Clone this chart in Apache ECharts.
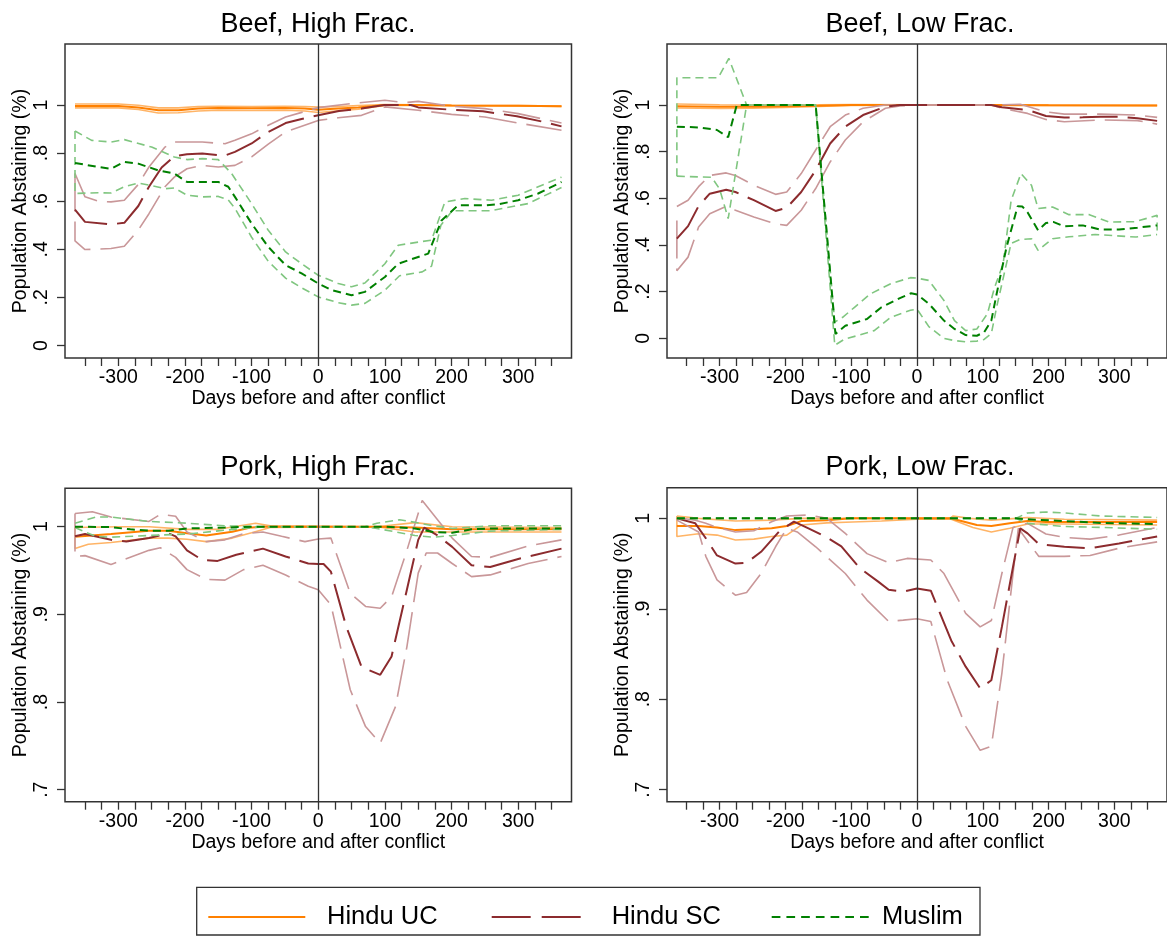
<!DOCTYPE html>
<html>
<head>
<meta charset="utf-8">
<script src="https://cdn.jsdelivr.net/npm/echarts@6/dist/echarts.min.js"></script>
<style>
html,body{margin:0;padding:0;background:#fff;}
#chart{width:1167px;height:936px;}
</style>
</head>
<body>
<div id="chart"></div>
<script>
// ---------------- DATA ----------------
const panelTitles = ['Beef, High Frac.', 'Beef, Low Frac.', 'Pork, High Frac.', 'Pork, Low Frac.'];
const groupNames = ['Hindu UC', 'Hindu SC', 'Muslim'];
const xTickValues = [-350,-325,-300,-275,-250,-225,-200,-175,-150,-125,-100,-75,-50,-25,0,25,50,75,100,125,150,175,200,225,250,275,300,325,350];
const xLabelValues = [-300,-200,-100,0,100,200,300];
const yTicksBeef = [0,0.2,0.4,0.6,0.8,1];
const yTicksPork = [0.7,0.8,0.9,1];
const xAxisTitle = 'Days before and after conflict';
const yAxisTitle = 'Population Abstaining (%)';

// Beef, High Frac.  [day, share]
const bhUC   = [[-365,0.996],[-300,0.996],[-270,0.99],[-240,0.978],[-210,0.978],[-180,0.985],[-150,0.987],[-100,0.986],[-50,0.987],[-20,0.985],[0,0.98],[30,0.985],[60,0.99],[100,1.0],[150,1.0],[200,0.998],[300,0.997],[365,0.995]];
const bhUCHi = [[-365,1.004],[-300,1.004],[-270,0.999],[-240,0.988],[-210,0.988],[-180,0.994],[-150,0.995],[-100,0.994],[-50,0.995],[-20,0.994],[0,0.991],[30,0.994],[60,0.998],[100,1.002],[150,1.001],[200,0.999],[300,0.998],[365,0.996]];
const bhUCLo = [[-365,0.988],[-300,0.988],[-270,0.981],[-240,0.967],[-210,0.968],[-180,0.975],[-150,0.978],[-100,0.977],[-50,0.978],[-20,0.975],[0,0.969],[30,0.976],[60,0.982],[100,0.998],[150,0.999],[200,0.997],[300,0.996],[365,0.994]];
const bhSC   = [[-365,0.565],[-350,0.514],[-311,0.504],[-291,0.51],[-270,0.58],[-254,0.66],[-235,0.74],[-216,0.787],[-197,0.795],[-174,0.798],[-150,0.792],[-140,0.79],[-125,0.805],[-100,0.84],[-75,0.888],[-49,0.925],[-25,0.942],[0,0.957],[31,0.975],[65,0.985],[99,1.0],[139,1.0],[150,0.99],[201,0.98],[247,0.974],[298,0.953],[338,0.93],[365,0.911]];
const bhSCHi = [[-365,0.715],[-350,0.618],[-330,0.60],[-311,0.597],[-291,0.604],[-270,0.67],[-254,0.742],[-230,0.825],[-216,0.846],[-174,0.846],[-140,0.839],[-125,0.853],[-100,0.88],[-75,0.916],[-49,0.95],[0,0.989],[50,1.006],[100,1.02],[130,1.01],[150,1.015],[200,0.995],[250,0.985],[300,0.964],[365,0.925]];
const bhSCLo = [[-365,0.715],[-365,0.435],[-350,0.399],[-311,0.403],[-291,0.413],[-270,0.48],[-254,0.548],[-230,0.66],[-216,0.70],[-197,0.735],[-174,0.749],[-150,0.742],[-125,0.749],[-100,0.784],[-75,0.837],[-49,0.888],[0,0.936],[30,0.947],[65,0.957],[100,0.992],[150,0.978],[200,0.961],[250,0.95],[300,0.925],[365,0.895]];
const bhMU   = [[-365,0.759],[-330,0.742],[-311,0.735],[-291,0.763],[-270,0.756],[-240,0.728],[-216,0.715],[-197,0.68],[-174,0.68],[-150,0.68],[-135,0.66],[-125,0.618],[-100,0.507],[-75,0.41],[-49,0.334],[-25,0.3],[0,0.258],[20,0.23],[50,0.209],[70,0.223],[100,0.285],[120,0.34],[150,0.368],[165,0.382],[185,0.52],[210,0.583],[250,0.583],[270,0.587],[300,0.604],[330,0.632],[365,0.68]];
const bhMUHi = [[-365,0.892],[-340,0.853],[-311,0.846],[-291,0.856],[-250,0.825],[-216,0.784],[-197,0.773],[-174,0.777],[-150,0.773],[-130,0.715],[-100,0.59],[-75,0.479],[-49,0.389],[-25,0.34],[0,0.292],[30,0.258],[50,0.244],[70,0.26],[100,0.34],[120,0.417],[150,0.43],[170,0.438],[190,0.597],[220,0.611],[260,0.604],[300,0.625],[330,0.66],[365,0.70]];
const bhMULo = [[-365,0.892],[-365,0.632],[-330,0.635],[-311,0.634],[-291,0.66],[-270,0.675],[-250,0.665],[-230,0.652],[-216,0.655],[-197,0.625],[-174,0.618],[-150,0.62],[-135,0.605],[-125,0.57],[-100,0.45],[-75,0.35],[-49,0.28],[-25,0.24],[0,0.202],[30,0.178],[50,0.168],[70,0.175],[100,0.23],[122,0.29],[156,0.306],[170,0.33],[184,0.5],[201,0.56],[258,0.56],[315,0.59],[365,0.657]];

// Beef, Low Frac.
const blUC   = [[-365,0.995],[-300,0.993],[-250,0.993],[-200,0.995],[-150,0.997],[-100,1.0],[0,1.0],[100,1.0],[200,0.999],[365,0.998]];
const blUCHi = [[-365,1.004],[-300,1.001],[-250,1.0],[-200,1.0],[-150,1.001],[-100,1.002],[0,1.001],[100,1.001],[200,1.0],[365,0.999]];
const blUCLo = [[-365,0.987],[-300,0.985],[-250,0.986],[-200,0.99],[-150,0.994],[-100,0.998],[0,0.999],[100,0.999],[200,0.998],[365,0.997]];
const blSC   = [[-365,0.427],[-348,0.481],[-332,0.567],[-315,0.62],[-290,0.637],[-276,0.627],[-248,0.592],[-215,0.546],[-198,0.56],[-176,0.627],[-154,0.72],[-132,0.835],[-109,0.907],[-82,0.957],[-48,0.993],[-26,1.0],[0,1.0],[113,1.0],[129,0.99],[168,0.979],[196,0.953],[224,0.946],[252,0.947],[279,0.95],[307,0.95],[335,0.943],[365,0.932]];
const blSCHi = [[-365,0.565],[-348,0.592],[-332,0.65],[-315,0.698],[-290,0.709],[-276,0.698],[-248,0.656],[-215,0.617],[-198,0.627],[-176,0.706],[-154,0.807],[-132,0.907],[-109,0.957],[-82,0.986],[-48,1.0],[113,1.0],[157,1.003],[196,0.971],[224,0.961],[279,0.961],[335,0.957],[365,0.947]];
const blSCLo = [[-365,0.505],[-365,0.29],[-348,0.348],[-332,0.477],[-315,0.534],[-290,0.566],[-276,0.549],[-248,0.52],[-215,0.491],[-198,0.484],[-176,0.549],[-154,0.642],[-132,0.756],[-109,0.85],[-82,0.928],[-48,0.986],[-26,0.996],[0,1.0],[113,1.0],[129,0.986],[168,0.964],[196,0.938],[224,0.928],[279,0.936],[335,0.933],[365,0.918]];
const blMU   = [[-365,0.907],[-332,0.904],[-304,0.893],[-287,0.862],[-274,1.0],[-154,1.0],[-124,0.019],[-109,0.054],[-93,0.068],[-76,0.083],[-54,0.133],[-26,0.172],[-9,0.193],[0,0.188],[18,0.148],[41,0.076],[57,0.04],[74,0.014],[91,0.011],[102,0.026],[113,0.076],[121,0.19],[136,0.39],[153,0.566],[160,0.565],[168,0.54],[184,0.463],[196,0.494],[207,0.499],[224,0.48],[252,0.484],[279,0.466],[307,0.466],[335,0.474],[365,0.484]];
const blMUHi = [[-365,0.695],[-365,1.117],[-302,1.117],[-286,1.2],[-259,1.0],[-154,1.0],[-125,0.07],[-113,0.09],[-95,0.133],[-71,0.19],[-40,0.234],[-10,0.26],[0,0.258],[18,0.248],[41,0.162],[57,0.076],[74,0.033],[91,0.04],[107,0.105],[118,0.219],[131,0.32],[143,0.59],[158,0.706],[174,0.656],[184,0.556],[206,0.563],[231,0.53],[262,0.53],[292,0.498],[332,0.50],[365,0.527],[365,0.445]];
const blMULo = [[-365,0.695],[-312,0.69],[-300,0.64],[-287,0.513],[-259,1.0],[-154,1.0],[-125,-0.03],[-110,-0.003],[-90,0.012],[-65,0.033],[-40,0.09],[-10,0.12],[0,0.125],[18,0.05],[41,0.0],[57,-0.01],[74,-0.015],[91,-0.012],[102,-0.005],[113,0.02],[121,0.133],[143,0.407],[156,0.423],[174,0.427],[184,0.377],[206,0.427],[231,0.435],[271,0.445],[333,0.434],[365,0.445]];

// Pork, High Frac.
const phUC   = [[-365,0.9886],[-340,0.990],[-311,0.9916],[-254,0.9954],[-225,0.9954],[-197,0.9924],[-168,0.990],[-129,0.9943],[-100,0.9992],[-83,1.0],[88,1.0],[145,0.999],[201,0.997],[258,0.997],[365,0.997]];
const phUCHi = [[-365,0.999],[-300,1.0],[-254,1.0],[-197,0.997],[-150,0.997],[-94,1.004],[-72,1.001],[88,1.0],[145,1.0046],[201,1.0],[365,0.999]];
const phUCLo = [[-365,0.999],[-365,0.975],[-345,0.98],[-311,0.982],[-254,0.987],[-225,0.987],[-197,0.9856],[-168,0.983],[-129,0.987],[-100,0.993],[-72,0.999],[88,1.0],[145,0.994],[201,0.994],[365,0.994]];
const phSC   = [[-365,0.989],[-350,0.9916],[-311,0.985],[-288,0.983],[-254,0.987],[-225,0.9924],[-214,0.989],[-197,0.973],[-174,0.962],[-151,0.961],[-123,0.968],[-83,0.975],[-49,0.966],[-15,0.958],[0,0.9574],[8,0.9574],[19,0.9487],[42,0.886],[65,0.84],[93,0.831],[110,0.852],[133,0.928],[150,0.985],[159,0.999],[179,0.99],[201,0.977],[230,0.956],[258,0.954],[304,0.964],[365,0.975]];
const phSCHi = [[-365,1.015],[-339,1.017],[-311,1.011],[-254,1.006],[-237,1.014],[-214,1.012],[-197,0.994],[-168,0.983],[-140,0.985],[-112,0.992],[-83,0.994],[-55,0.989],[-20,0.983],[0,0.986],[19,0.987],[48,0.924],[71,0.909],[93,0.907],[110,0.92],[133,0.973],[156,1.03],[179,1.008],[201,0.987],[230,0.966],[258,0.965],[315,0.978],[365,0.985]];
const phSCLo = [[-365,1.015],[-365,0.966],[-350,0.967],[-311,0.957],[-254,0.973],[-237,0.976],[-214,0.965],[-197,0.951],[-168,0.94],[-140,0.939],[-112,0.951],[-83,0.956],[-49,0.945],[-15,0.932],[0,0.928],[19,0.911],[48,0.814],[71,0.772],[93,0.753],[116,0.795],[133,0.863],[150,0.947],[162,0.97],[179,0.97],[201,0.958],[230,0.943],[258,0.945],[315,0.958],[365,0.966]];
const phMU   = [[-365,1.0],[-311,0.9995],[-282,0.997],[-254,0.9955],[-225,0.9955],[-197,0.998],[-140,0.999],[-100,1.0],[100,1.0],[145,0.998],[173,0.994],[201,0.993],[230,0.997],[258,0.998],[365,0.998]];
const phMUHi = [[-365,1.004],[-334,1.011],[-311,1.011],[-254,1.006],[-197,1.004],[-140,1.001],[-83,1.0],[70,1.0],[88,1.004],[122,1.008],[145,1.005],[173,1.001],[201,0.998],[258,1.001],[365,1.001]];
const phMULo = [[-365,0.999],[-334,0.989],[-311,0.988],[-254,0.99],[-197,0.9916],[-140,0.996],[-83,1.0],[70,1.0],[88,0.998],[145,0.99],[173,0.988],[201,0.99],[258,0.995],[365,0.997]];

// Pork, Low Frac.
const plUC   = [[-365,0.9915],[-332,0.9915],[-304,0.990],[-276,0.987],[-248,0.988],[-221,0.989],[-198,0.9915],[-176,0.997],[-137,0.998],[-100,1.0],[50,1.0],[57,0.999],[91,0.9926],[113,0.9915],[141,0.9945],[168,0.997],[196,0.996],[279,0.996],[365,0.996]];
const plUCHi = [[-365,1.0026],[-332,1.0],[-276,0.997],[-221,0.998],[-176,1.0],[50,1.0],[55,1.0026],[80,1.0],[113,0.998],[152,1.0],[168,1.001],[224,0.999],[365,0.998]];
const plUCLo = [[-365,1.0026],[-365,0.98],[-332,0.983],[-304,0.9815],[-276,0.976],[-248,0.977],[-221,0.98],[-198,0.9815],[-176,0.9926],[-137,0.995],[-98,0.996],[-54,0.997],[0,0.999],[52,0.999],[85,0.99],[113,0.985],[141,0.989],[168,0.9937],[224,0.9937],[365,0.9926]];
const plSC   = [[-365,1.0],[-337,0.9945],[-321,0.978],[-304,0.959],[-276,0.95],[-259,0.951],[-237,0.963],[-209,0.986],[-187,0.9963],[-165,0.989],[-137,0.979],[-115,0.969],[-87,0.945],[-59,0.93],[-43,0.921],[-21,0.919],[0,0.9225],[21,0.92],[52,0.865],[74,0.836],[96,0.812],[113,0.821],[129,0.88],[146,0.9465],[157,0.989],[168,0.9834],[185,0.9716],[224,0.9686],[263,0.967],[307,0.9723],[365,0.98]];
const plSCHi = [[-365,1.001],[-337,0.998],[-321,0.9945],[-304,0.99],[-276,0.985],[-248,0.9863],[-221,0.9963],[-198,1.0026],[-165,1.0037],[-137,1.0],[-109,0.9834],[-76,0.961],[-43,0.951],[-15,0.9557],[21,0.954],[41,0.939],[74,0.895],[96,0.88],[113,0.887],[129,0.939],[146,0.99],[168,0.9945],[196,0.9827],[224,0.979],[263,0.977],[307,0.9815],[365,0.99]];
const plSCLo = [[-365,0.998],[-332,0.985],[-321,0.958],[-304,0.932],[-276,0.915],[-259,0.918],[-237,0.939],[-215,0.9686],[-198,0.989],[-182,0.985],[-154,0.9686],[-109,0.939],[-76,0.9096],[-43,0.886],[-21,0.8875],[0,0.889],[21,0.886],[46,0.821],[74,0.77],[96,0.7435],[113,0.748],[129,0.8286],[146,0.939],[154,0.989],[185,0.958],[224,0.958],[263,0.959],[307,0.967],[365,0.974]];
const plMU   = [[-365,1.0],[150,1.0],[168,0.999],[224,0.997],[279,0.995],[365,0.9937]];
const plMUHi = [[-365,1.0],[150,1.0],[168,1.006],[196,1.007],[224,1.006],[279,1.0026],[365,1.001]];
const plMULo = [[-365,1.0],[150,1.0],[168,0.9945],[224,0.991],[279,0.99],[365,0.988]];

// ---------------- LAYOUT / STYLE ----------------
const FONT = '"Liberation Sans", Arial, Helvetica, sans-serif';
const AXIS_COLOR = '#333333';
const colors = {
  uc: '#ff8000', ucCI: '#ffb466',
  sc: '#8c2b2e', scCI: '#c99799',
  mu: '#008000', muCI: '#80c680'
};
const DASH_SC = [38, 10];
const DASH_MU = [8, 5];

const panels = [
  {grid:{left:65, top:44, width:506.5, height:314}, ymin:-0.052, ymax:1.2536, yTicks:yTicksBeef, titleX:318, titleY:11},
  {grid:{left:667, top:44, width:506.5, height:314}, ymin:-0.0844, ymax:1.2615, yTicks:yTicksBeef, titleX:920, titleY:11},
  {grid:{left:65, top:488.3, width:506.5, height:313.4}, ymin:0.6863, ymax:1.0438, yTicks:yTicksPork, titleX:318, titleY:454},
  {grid:{left:667, top:487.7, width:506.5, height:314}, ymin:0.6867, ymax:1.0339, yTicks:yTicksPork, titleX:920, titleY:454}
];
const panelData = [
  [bhUC,bhUCHi,bhUCLo,bhSC,bhSCHi,bhSCLo,bhMU,bhMUHi,bhMULo],
  [blUC,blUCHi,blUCLo,blSC,blSCHi,blSCLo,blMU,blMUHi,blMULo],
  [phUC,phUCHi,phUCLo,phSC,phSCHi,phSCLo,phMU,phMUHi,phMULo],
  [plUC,plUCHi,plUCLo,plSC,plSCHi,plSCLo,plMU,plMUHi,plMULo]
];

function fmtY(v){
  if (Math.abs(v - 1) < 1e-9) return '1';
  if (Math.abs(v) < 1e-9) return '0';
  return String(+v.toFixed(2)).replace(/^0\./, '.');
}

// legend key icons (line samples drawn as thin bars)
function dashPath(n, dash, total, h){
  const gap = n > 1 ? (total - n * dash) / (n - 1) : 0;
  let s = 'path://';
  for (let k = 0; k < n; k++) {
    const x0 = k * (dash + gap);
    s += 'M' + x0.toFixed(2) + ',0h' + dash + 'v' + h + 'h-' + dash + 'z';
  }
  return s;
}

const option = {
  animation: false,
  backgroundColor: '#ffffff',
  textStyle: {fontFamily: FONT},
  title: [], grid: [], xAxis: [], yAxis: [], series: [],
  legend: [],
  graphic: [{
    type: 'rect', silent: true,
    shape: {x: 196.7, y: 887.3, width: 783.3, height: 47.7},
    style: {fill: 'none', stroke: AXIS_COLOR, lineWidth: 1.3}
  }]
};

panels.forEach((p, i) => {
  option.title.push({
    text: panelTitles[i], left: p.titleX, top: p.titleY, textAlign: 'center', padding: 0,
    textStyle: {fontFamily: FONT, fontSize: 27, fontWeight: 'normal', color: '#000'}
  });
  option.grid.push(Object.assign({show: true, borderColor: AXIS_COLOR, borderWidth: 1.5, backgroundColor: '#fff', containLabel: false}, p.grid));
  option.xAxis.push({
    type: 'value', gridIndex: i, min: -380, max: 380, position: 'bottom',
    name: xAxisTitle, nameLocation: 'middle', nameGap: 30,
    nameTextStyle: {fontFamily: FONT, fontSize: 19.5, color: '#000'},
    axisLine: {show: false, onZero: false},
    axisTick: {show: true, inside: false, customValues: xTickValues, length: 8, lineStyle: {color: AXIS_COLOR, width: 1.3}},
    axisLabel: {show: true, customValues: xLabelValues, margin: 10, fontFamily: FONT, fontSize: 19.5, color: '#000'},
    splitLine: {show: false}
  });
  option.yAxis.push({
    type: 'value', gridIndex: i, min: p.ymin, max: p.ymax, position: 'left',
    name: yAxisTitle, nameLocation: 'middle', nameGap: 34,
    nameTextStyle: {fontFamily: FONT, fontSize: 19.5, color: '#000'},
    axisLine: {show: false, onZero: false},
    axisTick: {show: true, inside: false, customValues: p.yTicks, length: 8, lineStyle: {color: AXIS_COLOR, width: 1.3}},
    axisLabel: {show: true, customValues: p.yTicks, rotate: 90, margin: 13, formatter: fmtY, fontFamily: FONT, fontSize: 19.5, color: '#000'},
    splitLine: {show: false}
  });
  const mk = (name, data, color, width, type, extra) => Object.assign({
    type: 'line', name: name, xAxisIndex: i, yAxisIndex: i, data: data,
    symbol: 'none', showSymbol: false, smooth: false, clip: true, silent: true,
    lineStyle: {color: color, width: width, type: type},
    itemStyle: {color: color},
    emphasis: {disabled: true}
  }, extra || {});
  const d = panelData[i];
  option.series.push(mk('Hindu UC CI', d[1], colors.ucCI, 1.6, 'solid'));
  option.series.push(mk('Hindu UC CI', d[2], colors.ucCI, 1.6, 'solid'));
  option.series.push(mk(groupNames[0], d[0], colors.uc, 2, 'solid', {
    markLine: {silent: true, symbol: ['none','none'], label: {show: false},
      lineStyle: {color: AXIS_COLOR, width: 1.3, type: 'solid'}, data: [{xAxis: 0}], animation: false}
  }));
  option.series.push(mk('Hindu SC CI', d[4], colors.scCI, 1.6, DASH_SC));
  option.series.push(mk('Hindu SC CI', d[5], colors.scCI, 1.6, DASH_SC));
  option.series.push(mk(groupNames[1], d[3], colors.sc, 2, DASH_SC));
  option.series.push(mk('Muslim CI', d[7], colors.muCI, 1.6, DASH_MU));
  option.series.push(mk('Muslim CI', d[8], colors.muCI, 1.6, DASH_MU));
  option.series.push(mk(groupNames[2], d[6], colors.mu, 2, DASH_MU));
});

const legendSpec = [
  {left: 208.3, width: 97, pad: 16.7, color: colors.uc, icon: dashPath(1, 97, 97, 2.2)},
  {left: 491.7, width: 89, pad: 26,   color: colors.sc, icon: dashPath(2, 39, 89, 2.2)},
  {left: 771.7, width: 97, pad: 8.4,  color: colors.mu, icon: dashPath(7, 8.7, 97, 2.2)}
];
legendSpec.forEach((l, k) => {
  option.legend.push({
    left: l.left, top: 904, padding: 0, itemWidth: l.width, itemHeight: 14, selectedMode: false,
    data: [{name: groupNames[k], icon: l.icon,
            itemStyle: {color: l.color, opacity: 1, borderWidth: 0}}],
    textStyle: {fontFamily: FONT, fontSize: 25.5, color: '#000', padding: [0, 0, 0, l.pad]}
  });
});

const chart = echarts.init(document.getElementById('chart'), null, {renderer: 'canvas'});
chart.setOption(option);
</script>
</body>
</html>
